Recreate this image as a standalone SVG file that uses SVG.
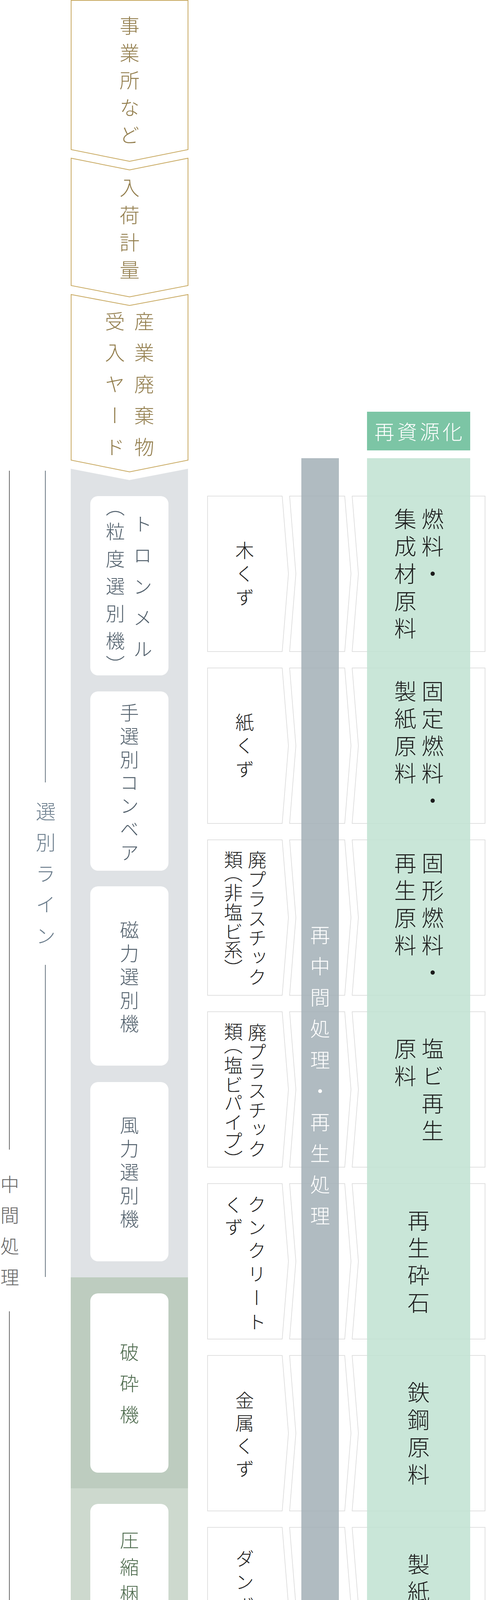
<svg xmlns="http://www.w3.org/2000/svg" width="1246" height="5166" viewBox="0 0 1246 5166">
<style>
text{font-family:'Noto Sans CJK JP','Noto Sans CJK SC',sans-serif;font-weight:300}
.v{writing-mode:vertical-rl}
.gold{fill:#927d4c;font-size:51px}
.proc{fill:#52606c;font-size:49px}
.procg{fill:#4d6a4d;font-size:49px}
.waste{fill:#222;font-size:48px}
.res{fill:#1c1c1c;font-size:57px}
.bar{fill:#fff;font-size:51px}
.side{fill:#666;font-size:48px}
.sidel{fill:#6b7d8c;font-size:51px}
.gbox{fill:#fff;stroke:#c8a961;stroke-width:2}
.row{fill:#fff;stroke:#d8d8d8;stroke-width:1.5}
.inner{fill:#fff}
</style>
<defs>
<path id="cA" d="M531,0 H722 L738,199 L722,398 H531 Z"/>
<path id="cB" d="M741,0 H882 L898,199 L882,398 H741 L757,199 Z"/>
<path id="cC" d="M901,0 H1241 V398 H901 L917,199 Z"/>
</defs>
<rect width="1246" height="5166" fill="#fff"/>

<!-- left process column background -->
<g id="process-column">
<path d="M181,1200 L331,1229 L481,1200 V3270 H181 Z" fill="#dfe2e5"/>
<rect x="181" y="3270" width="300" height="540" fill="#bdccbf"/>
<rect x="181" y="3810" width="300" height="540" fill="#cdd9ce"/>
<path d="M181,4350 H481 V4852 L236,5096 C205,5065 181,5030 181,4957 Z" fill="#dde5de"/>
</g>

<!-- top gold nodes -->
<g id="node-jigyosho">
<path class="gbox" d="M182,1 H481 V383 L331.5,413 L182,383 Z"/>
<text class="v gold" x="331.5" y="40 110 180 250 320">事業所など</text>
</g>
<g id="node-nyuka">
<path class="gbox" d="M182,405 L331.5,435 L481,405 V731 L331.5,760 L182,731 Z"/>
<text class="v gold" x="331.5" y="455 525 595 665">入荷計量</text>
</g>
<g id="node-ukeire">
<path class="gbox" d="M182,754 L331.5,782 L481,754 V1178 L331.5,1208 L182,1178 Z"/>
<text class="v gold" x="369" y="797 877 958 1038 1119">産業廃棄物</text>
<text class="v gold" x="294" y="797 877 958 1038 1119">受入ヤード</text>
</g>

<!-- side labels -->
<g id="label-chukan">
<line x1="24" y1="1205" x2="24" y2="2943" stroke="#6a6a6a" stroke-width="2"/>
<line x1="24" y1="3357" x2="24" y2="5096" stroke="#6a6a6a" stroke-width="2"/>
<text class="v side" x="25" y="3008 3087 3166 3246">中間処理</text>
</g>
<g id="label-senbetsu">
<line x1="116" y1="1205" x2="116" y2="2003" stroke="#6c7884" stroke-width="2"/>
<line x1="116" y1="2470" x2="116" y2="3269" stroke="#6c7884" stroke-width="2"/>
<text class="v sidel" x="117" y="2052 2131 2211 2290 2370">選別ライン</text>
</g>

<!-- process nodes -->
<g id="node-trommel">
<rect class="inner" x="231" y="1270" width="200" height="459" rx="20"/>
<text class="v proc" x="365" y="1317 1397 1477 1557 1637">トロンメル</text>
<text class="v proc" x="295" y="1273 1336 1406 1476 1546 1616 1677">（粒度選別機）</text>
</g>
<g id="node-tesenbetsu">
<rect class="inner" x="231" y="1770" width="200" height="459" rx="20"/>
<text class="v proc" x="331" y="1800 1860 1920 1979 2038 2098 2158">手選別コンベア</text>
</g>
<g id="node-jiryoku">
<rect class="inner" x="231" y="2269" width="200" height="459" rx="20"/>
<text class="v proc" x="331" y="2356 2416 2476 2536 2596">磁力選別機</text>
</g>
<g id="node-furyoku">
<rect class="inner" x="231" y="2770" width="200" height="459" rx="20"/>
<text class="v proc" x="331" y="2856 2916 2976 3036 3096">風力選別機</text>
</g>
<g id="node-hasai">
<rect class="inner" x="231" y="3311" width="200" height="459" rx="20"/>
<text class="v procg" x="331" y="3437 3517 3597">破砕機</text>
</g>
<g id="node-asshuku">
<rect class="inner" x="231" y="3850" width="200" height="459" rx="20"/>
<text class="v procg" x="331" y="3918 3987 4056 4125 4194">圧縮梱包機</text>
</g>
<g id="node-genyou">
<rect class="inner" x="231" y="4390" width="200" height="459" rx="20"/>
<text class="v procg" x="331" y="4516 4596 4676">減溶機</text>
</g>

<!-- waste type nodes -->
<g id="waste-nodes">
<g id="node-mokuzu"><use href="#cA" class="row" y="1270"/><text class="v waste" x="626" y="1385 1445 1505">木くず</text></g>
<g id="node-kamikuzu"><use href="#cA" class="row" y="1710"/><text class="v waste" x="626" y="1825 1885 1945">紙くず</text></g>
<g id="node-haipura1"><use href="#cA" class="row" y="2150"/>
<text class="v waste" x="658" y="2177 2227 2277 2327 2377 2427 2477">廃プラスチック</text>
<text class="v waste" x="597" y="2177 2211 2261 2311 2361 2407 2455">類（非塩ビ系）</text></g>
<g id="node-haipura2"><use href="#cA" class="row" y="2590"/>
<text class="v waste" x="658" y="2619 2669 2718 2768 2818 2867 2917">廃プラスチック</text>
<text class="v waste" x="597" y="2617 2651 2703 2753 2799 2849 2896 2944">類（塩ビパイプ）</text></g>
<g id="node-concrete"><use href="#cA" class="row" y="3030"/>
<text class="v waste" x="657" y="3059 3118 3177 3237 3298 3360">クンクリート</text>
<text class="v waste" x="598" y="3061 3117">くず</text></g>
<g id="node-kinzoku"><use href="#cA" class="row" y="3470"/><text class="v waste" x="626" y="3561 3619 3678 3736">金属くず</text></g>
<g id="node-danball"><use href="#cA" class="row" y="3910"/><text class="v waste" x="626" y="3966 4026 4086 4147 4207">ダンボール</text></g>
<g id="node-zansa"><use href="#cA" class="row" y="4350"/><text class="v waste" x="627" y="4378 4438 4498 4557 4617 4677">選別後の残渣</text></g>
</g>

<!-- connectors (middle chevrons) -->
<g id="connectors">
<use href="#cB" class="row" y="1270"/>
<use href="#cB" class="row" y="1710"/>
<use href="#cB" class="row" y="2150"/>
<use href="#cB" class="row" y="2590"/>
<use href="#cB" class="row" y="3030"/>
<use href="#cB" class="row" y="3470"/>
<use href="#cB" class="row" y="3910"/>
<use href="#cB" class="row" y="4350"/>
</g>

<!-- result boxes -->
<g id="result-boxes">
<use href="#cC" class="row" y="1270"/>
<use href="#cC" class="row" y="1710"/>
<use href="#cC" class="row" y="2150"/>
<use href="#cC" class="row" y="2590"/>
<use href="#cC" class="row" y="3030"/>
<use href="#cC" class="row" y="3470"/>
<use href="#cC" class="row" y="3910"/>
<use href="#cC" class="row" y="4350"/>
</g>

<!-- bars -->
<g id="node-saichukan">
<rect x="771" y="1173" width="96" height="3156" fill="rgb(162,175,182)" fill-opacity="0.85"/>
<text class="v bar" x="819" y="2368 2448 2528 2608 2688 2768 2847 2927 3007 3087">再中間処理・再生処理</text>
</g>
<g id="node-saishu">
<rect x="771" y="4329" width="96" height="440" fill="rgb(161,183,162)" fill-opacity="0.85"/>
<text class="v bar" x="820" y="4407 4487 4567 4647">最終処分</text>
</g>
<g id="node-saishigen">
<rect x="939" y="1054" width="264" height="99" fill="#7cc5a5"/>
<text x="958" y="1103" dominant-baseline="central" fill="#fff" font-size="51" letter-spacing="7">再資源化</text>
<rect x="939" y="1173" width="264" height="3156" fill="rgb(191,226,209)" fill-opacity="0.85"/>
</g>

<!-- result texts -->
<g id="result-texts">
<text class="v res" x="1107" y="1300 1370 1440">燃料・</text>
<text class="v res" x="1037" y="1300 1370 1440 1510 1580">集成材原料</text>
<text class="v res" x="1107" y="1741 1811 1881 1951 2021">固定燃料・</text>
<text class="v res" x="1037" y="1741 1811 1881 1951">製紙原料</text>
<text class="v res" x="1107" y="2181 2251 2321 2391 2461">固形燃料・</text>
<text class="v res" x="1037" y="2181 2251 2321 2391">再生原料</text>
<text class="v res" x="1107" y="2656 2726 2796 2866">塩ビ再生</text>
<text class="v res" x="1037" y="2656 2726">原料</text>
<text class="v res" x="1071" y="3096 3166 3236 3306">再生砕石</text>
<text class="v res" x="1071" y="3536 3606 3676 3746">鉄鋼原料</text>
<text class="v res" x="1071" y="3976 4046 4116 4186">製紙原料</text>
<text class="v res" x="1071" y="4416 4486 4556 4626">埋立処分</text>
</g>

<!-- bottom -->
<g id="node-shukka">
<path d="M494,4866 H693 L722,5015 L693,5164 H400 Q320,5162 250,5110 Z" fill="#fff" stroke="#c8a961" stroke-width="2"/>
<text x="436" y="5017" dominant-baseline="central" fill="#927d4c" font-size="48" letter-spacing="10">出荷計量</text>
</g>
<g id="node-gyosha">
<path d="M716,4866 H1246 V5166 H716 L744,5015 Z" fill="#f3ece1"/>
<text x="788" y="4938" dominant-baseline="central" fill="#9a8657" font-size="48" letter-spacing="11">再中間処理また</text>
<text x="788" y="5016" dominant-baseline="central" fill="#9a8657" font-size="48" letter-spacing="11">は最終処分業者</text>
<text x="788" y="5095" dominant-baseline="central" fill="#9a8657" font-size="48" letter-spacing="11">にて処分</text>
</g>
</svg>
